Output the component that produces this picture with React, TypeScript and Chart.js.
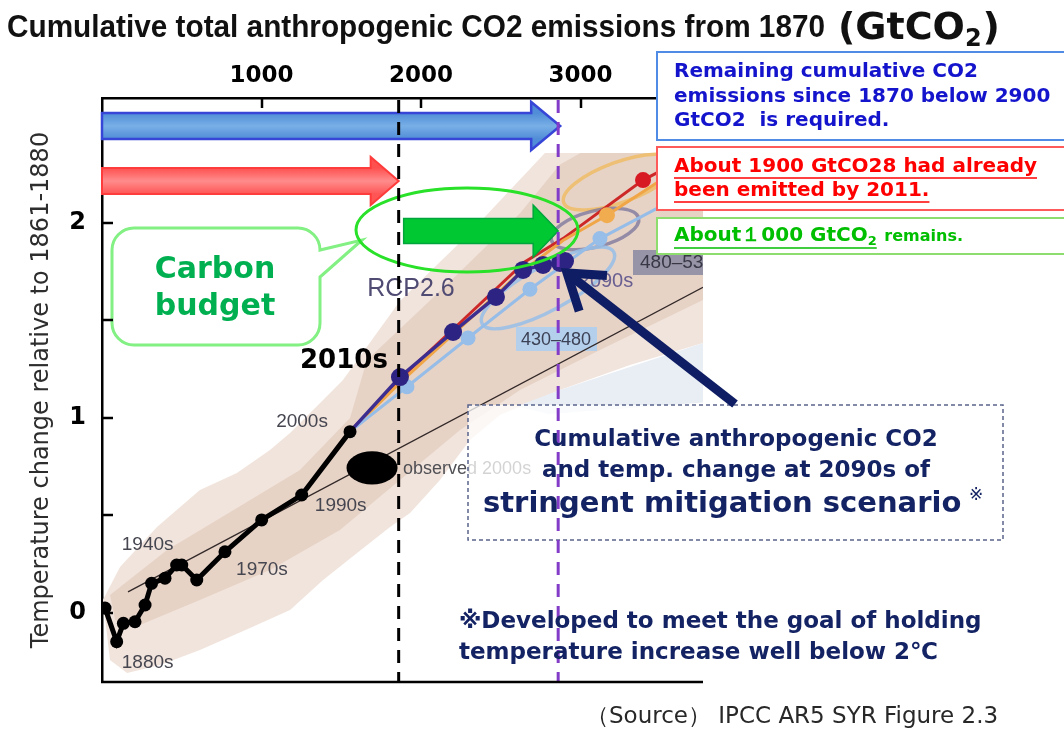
import React, { useEffect, useRef } from 'react';
import { Chart, registerables } from 'chart.js';

Chart.register(...registerables);

// ---------------- DATA ----------------
// x: cumulative anthropogenic CO2 since 1870 (GtCO2), y: temperature change vs 1861-1880 (°C)
const observedLabels = ['1870s', '1880s', '1890s', '1900s', '1910s', '1920s', '1930s', '1940s', '1950s', '1960s', '1970s', '1980s', '1990s', '2000s'];
const observedCO2 = [19, 92, 134, 207, 270, 311, 395, 468, 500, 594, 771, 1001, 1252, 1555];
const observedTemp = [0.025, -0.147, -0.053, -0.045, 0.041, 0.152, 0.178, 0.246, 0.246, 0.169, 0.314, 0.477, 0.605, 0.93];

const rcp26CO2 = [1555, 1868, 2201, 2470, 2640, 2765, 2871, 2903];
const rcp26Temp = [0.93, 1.21, 1.441, 1.621, 1.759, 1.785, 1.795, 1.805];

const rcp45CO2 = [1555, 1912, 2295, 2683, 3122, 3768];
const rcp45Temp = [0.93, 1.16, 1.41, 1.66, 1.92, 2.2];

const rcp60CO2 = [1555, 1880, 2230, 2600, 2890, 3166, 3768];
const rcp60Temp = [0.93, 1.19, 1.45, 1.73, 1.91, 2.04, 2.36];

const rcp85CO2 = [1555, 1880, 2260, 2650, 2890, 3392, 3768];
const rcp85Temp = [0.93, 1.21, 1.5, 1.8, 1.92, 2.22, 2.38];

const trendCO2 = [163, 3768];
const trendTemp = [0.108, 1.67];

const plumeOuterCO2 = [6, 113, 345, 614, 846, 1053, 1179, 1386, 1511, 1868, 2307, 2777, 3768, 3768, 3310, 2871, 2495, 2307, 2119, 1931, 1806, 1599, 1386, 1179, 928, 614, 364, 157, 50];
const plumeOuterTemp = [0.067, 0.236, 0.441, 0.631, 0.718, 0.836, 0.923, 1.092, 1.195, 1.6, 1.95, 2.359, 2.359, 1.385, 1.272, 1.144, 1.015, 0.887, 0.682, 0.513, 0.441, 0.308, 0.169, 0.015, -0.077, -0.19, -0.267, -0.308, -0.241];

const plumeInnerCO2 = [50, 408, 846, 1241, 1555, 1661, 1994, 2245, 2621, 2871, 3000, 3768, 3768, 3122, 2621, 2245, 1868, 1492, 1053, 614, 238, 82];
const plumeInnerTemp = [0.092, 0.323, 0.538, 0.733, 1.0, 1.297, 1.554, 1.75, 2.05, 2.3, 2.359, 2.359, 1.605, 1.349, 1.144, 0.938, 0.682, 0.426, 0.221, 0.067, -0.062, -0.036];

const plumeLowCO2 = [3768, 2871, 2600, 2800, 3768];
const plumeLowTemp = [1.385, 1.144, 1.06, 1.02, 1.08];

// 2090s scenario ranges (centre, half-width in GtCO2, half-height in °C)
const rangeCO2 = [3248, 3091, 2796];
const rangeTemp = [2.21, 1.969, 1.667];
const rangeHalfCO2 = [376, 282, 470];
const rangeHalfTemp = [0.103, 0.092, 0.113];

const obs2000sCO2 = 1693;
const obs2000sTemp = 0.744;
const obs2000sHalfCO2 = 160;
const obs2000sHalfTemp = 0.085;

const emittedBy2011 = 1860; // "about 1900 GtCO2"
const budgetTotal = 2860; // "below 2900 GtCO2"

const xTickValues = [1000, 2000, 3000];
const yTickValues = [0, 0.5, 1, 1.5, 2];

// ---------------- STYLES ----------------
const rangeColors = ['rgba(240,185,90,0.75)', 'rgba(120,115,155,0.75)', 'rgba(150,190,232,0.85)'];
const rangeTilt = [-0.35, -0.25, -0.5];

const pts = (xs: number[], ys: number[]) => xs.map((x, i) => ({ x, y: ys[i] }));

function drawArrow(ctx: CanvasRenderingContext2D, x0: number, x1: number, yc: number, bodyH: number, headH: number, headL: number, fill: any, stroke: string, lw: number) {
  ctx.beginPath();
  ctx.moveTo(x0, yc - bodyH / 2);
  ctx.lineTo(x1 - headL, yc - bodyH / 2);
  ctx.lineTo(x1 - headL, yc - headH / 2);
  ctx.lineTo(x1, yc);
  ctx.lineTo(x1 - headL, yc + headH / 2);
  ctx.lineTo(x1 - headL, yc + bodyH / 2);
  ctx.lineTo(x0, yc + bodyH / 2);
  ctx.closePath();
  ctx.fillStyle = fill;
  ctx.fill();
  ctx.lineWidth = lw;
  ctx.strokeStyle = stroke;
  ctx.lineJoin = 'miter';
  ctx.stroke();
}

const annotationPlugin = {
  id: 'annotations',
  beforeDraw(chart: any) {
    const ctx = chart.ctx;
    ctx.save();
    ctx.fillStyle = '#ffffff';
    ctx.fillRect(0, 0, chart.width, chart.height);
    ctx.restore();
  },
  beforeDatasetsDraw(chart: any) {
    const { ctx, chartArea: ca } = chart;
    const xs = (v: number) => chart.scales.x.getPixelForValue(v);
    const ys = (v: number) => chart.scales.y.getPixelForValue(v);
    ctx.save();
    ctx.beginPath();
    ctx.rect(ca.left, ca.top, ca.right - ca.left, ca.bottom - ca.top);
    ctx.clip();
    const poly = (X: number[], Y: number[], color: string) => {
      ctx.beginPath();
      X.forEach((v, i) => (i ? ctx.lineTo(xs(v), ys(Y[i])) : ctx.moveTo(xs(v), ys(Y[i]))));
      ctx.closePath();
      ctx.fillStyle = color;
      ctx.fill();
    };
    poly(plumeOuterCO2, plumeOuterTemp, 'rgb(241,228,220)');
    poly(plumeLowCO2, plumeLowTemp, 'rgb(233,237,244)');
    poly(plumeInnerCO2, plumeInnerTemp, 'rgb(231,211,198)');

    // range labels
    ctx.fillStyle = 'rgb(150,148,166)';
    ctx.fillRect(633, 250, 80, 25);
    ctx.fillStyle = 'rgb(55,55,70)';
    ctx.font = '19px "Liberation Sans"';
    ctx.textAlign = 'left';
    ctx.textBaseline = 'middle';
    ctx.fillText('480\u2013530', 640, 263);
    ctx.fillStyle = 'rgb(180,207,236)';
    ctx.fillRect(516, 327, 81, 24);
    ctx.fillStyle = 'rgb(60,65,85)';
    ctx.font = '18px "Liberation Sans"';
    ctx.textAlign = 'center';
    ctx.fillText('430\u2013480', 556, 340);

    // range ellipses
    rangeCO2.forEach((c, i) => {
      const cx = xs(c);
      const cy = ys(rangeTemp[i]);
      const rx = xs(c + rangeHalfCO2[i]) - cx;
      const ry = cy - ys(rangeTemp[i] + rangeHalfTemp[i]);
      ctx.beginPath();
      ctx.ellipse(cx, cy, rx, ry, rangeTilt[i], 0, Math.PI * 2);
      ctx.strokeStyle = rangeColors[i];
      ctx.lineWidth = 3.5;
      ctx.stroke();
    });

    ctx.fillStyle = 'rgb(105,95,145)';
    ctx.font = '20px "Liberation Sans"';
    ctx.textAlign = 'center';
    ctx.fillText('2090s', 606, 281);
    ctx.restore();
  },
  afterDatasetsDraw(chart: any) {
    const { ctx, chartArea: ca } = chart;
    const xs = (v: number) => chart.scales.x.getPixelForValue(v);
    const ys = (v: number) => chart.scales.y.getPixelForValue(v);
    ctx.save();

    // observed 2000s blob
    const ex = xs(obs2000sCO2);
    const ey = ys(obs2000sTemp);
    ctx.beginPath();
    ctx.ellipse(ex, ey, xs(obs2000sCO2 + obs2000sHalfCO2) - ex, ey - ys(obs2000sTemp + obs2000sHalfTemp), 0, 0, Math.PI * 2);
    ctx.fillStyle = '#000';
    ctx.fill();
    ctx.font = '18px "Liberation Sans"';
    ctx.fillStyle = 'rgb(80,80,85)';
    ctx.textAlign = 'left';
    ctx.textBaseline = 'middle';
    ctx.fillText('observed 2000s', ex + 31, ey + 1);

    // decade labels
    const decadeLabelOffsets = [[1, 31, 21], [7, -29, -20], [10, 37, 18], [12, 39, 11], [13, -48, -10]];
    ctx.font = '19px "Liberation Sans"';
    ctx.fillStyle = 'rgb(70,70,80)';
    ctx.textAlign = 'center';
    decadeLabelOffsets.forEach(([i, dx, dy]) => {
      ctx.fillText(observedLabels[i], xs(observedCO2[i]) + dx, ys(observedTemp[i]) + dy, 52);
    });
    ctx.font = 'bold 26px "DejaVu Sans"';
    ctx.fillStyle = '#000';
    ctx.fillText('2010s', xs(rcp26CO2[1]) - 56, ys(rcp26Temp[1]) - 16);
    ctx.font = '25px "Liberation Sans"';
    ctx.fillStyle = 'rgb(80,75,115)';
    ctx.fillText('RCP2.6', 411, 289);

    // arrows
    const blueFill = ctx.createLinearGradient(0, 113, 0, 139);
    blueFill.addColorStop(0, 'rgb(80,140,215)');
    blueFill.addColorStop(0.5, 'rgb(120,175,230)');
    blueFill.addColorStop(1, 'rgb(80,140,215)');
    drawArrow(ctx, xs(0), xs(budgetTotal) + 2, 126, 26, 48, 29, blueFill, 'rgb(55,70,215)', 2.5);
    const redFill = ctx.createLinearGradient(0, 168, 0, 194);
    redFill.addColorStop(0, 'rgb(255,80,80)');
    redFill.addColorStop(0.5, 'rgb(255,140,140)');
    redFill.addColorStop(1, 'rgb(255,85,85)');
    drawArrow(ctx, xs(0), xs(emittedBy2011), 181, 26, 48, 28, redFill, 'rgb(255,60,60)', 2);

    // carbon budget callout
    ctx.beginPath();
    ctx.moveTo(134, 228);
    ctx.lineTo(298, 228);
    ctx.arcTo(320, 228, 320, 345, 22);
    ctx.lineTo(362, 240);
    ctx.lineTo(320, 277);
    ctx.lineTo(320, 323);
    ctx.arcTo(320, 345, 112, 345, 22);
    ctx.lineTo(134, 345);
    ctx.arcTo(112, 345, 112, 228, 22);
    ctx.lineTo(112, 250);
    ctx.arcTo(112, 228, 320, 228, 22);
    ctx.closePath();
    ctx.fillStyle = '#fff';
    ctx.fill();
    ctx.strokeStyle = 'rgb(130,240,130)';
    ctx.lineWidth = 3;
    ctx.stroke();
    ctx.font = 'bold 30px "DejaVu Sans"';
    ctx.fillStyle = 'rgb(0,176,80)';
    ctx.textAlign = 'center';
    ctx.fillText('Carbon', 215, 270);
    ctx.fillText('budget', 215, 307);

    // green arrow + ellipse
    drawArrow(ctx, xs(emittedBy2011) + 5, xs(budgetTotal), 231, 25, 52, 25, 'rgb(0,200,50)', 'rgb(0,165,60)', 1.5);
    ctx.beginPath();
    ctx.ellipse(467, 230, 111, 42, 0, 0, Math.PI * 2);
    ctx.strokeStyle = 'rgb(40,225,40)';
    ctx.lineWidth = 3;
    ctx.stroke();

    // dashed text box
    ctx.fillStyle = 'rgba(255,255,255,0.75)';
    ctx.fillRect(468, 405, 535, 135);
    ctx.setLineDash([4, 3]);
    ctx.strokeStyle = 'rgb(90,100,140)';
    ctx.lineWidth = 1.5;
    ctx.strokeRect(468, 405, 535, 135);
    ctx.setLineDash([]);

    // vertical dashed lines
    ctx.lineWidth = 3;
    ctx.setLineDash([13, 9]);
    ctx.strokeStyle = '#000';
    ctx.beginPath();
    ctx.moveTo(xs(emittedBy2011), ca.top + 2);
    ctx.lineTo(xs(emittedBy2011), ca.bottom);
    ctx.stroke();
    ctx.strokeStyle = 'rgb(130,60,200)';
    ctx.beginPath();
    ctx.moveTo(xs(budgetTotal), ca.top + 2);
    ctx.lineTo(xs(budgetTotal), ca.bottom);
    ctx.stroke();
    ctx.setLineDash([]);

    // box text
    ctx.fillStyle = 'rgb(20,35,100)';
    ctx.textAlign = 'center';
    ctx.font = 'bold 23px "DejaVu Sans"';
    ctx.fillText('Cumulative anthropogenic CO2', 736, 440);
    ctx.fillText('and temp. change at 2090s of', 736, 471);
    ctx.font = 'bold 29px "DejaVu Sans"';
    ctx.textAlign = 'left';
    ctx.fillText('stringent mitigation scenario', 483, 504);
    ctx.font = '17px "DejaVu Sans"';
    ctx.fillText('\u203B', 969, 496);

    // navy arrow
    const tipX = xs(rcp26CO2[rcp26CO2.length - 1]) + 2;
    const tipY = ys(rcp26Temp[rcp26Temp.length - 1]) + 12;
    const sx = 735, sy = 404;
    const ang = Math.atan2(sy - tipY, sx - tipX);
    ctx.strokeStyle = 'rgb(15,30,100)';
    ctx.lineWidth = 9;
    ctx.lineCap = 'butt';
    ctx.beginPath();
    ctx.moveTo(sx, sy);
    ctx.lineTo(tipX + 5 * Math.cos(ang), tipY + 5 * Math.sin(ang));
    ctx.stroke();
    ctx.lineJoin = 'miter';
    ctx.beginPath();
    ctx.moveTo(tipX + 40 * Math.cos(ang - 0.6), tipY + 40 * Math.sin(ang - 0.6));
    ctx.lineTo(tipX, tipY);
    ctx.lineTo(tipX + 40 * Math.cos(ang + 0.6), tipY + 40 * Math.sin(ang + 0.6));
    ctx.stroke();

    // inward tick marks and bottom axis
    ctx.strokeStyle = '#000';
    ctx.lineWidth = 2.5;
    chart.scales.x.ticks.forEach((t: any) => {
      const px = Math.round(xs(t.value));
      ctx.beginPath();
      ctx.moveTo(px, ca.top);
      ctx.lineTo(px, ca.top + 10);
      ctx.stroke();
    });
    chart.scales.y.ticks.forEach((t: any) => {
      const py = Math.round(ys(t.value));
      ctx.beginPath();
      ctx.moveTo(ca.left, py);
      ctx.lineTo(ca.left + 11, py);
      ctx.stroke();
    });
    ctx.beginPath();
    ctx.moveTo(ca.left - 1, ca.bottom);
    ctx.lineTo(ca.right, ca.bottom);
    ctx.stroke();

    // right-hand text boxes
    ctx.lineWidth = 2;
    ctx.fillStyle = '#fff';
    ctx.fillRect(657, 52, 420, 88);
    ctx.strokeStyle = 'rgb(80,140,230)';
    ctx.strokeRect(657, 52, 420, 88);
    ctx.fillStyle = '#fff';
    ctx.fillRect(657, 147, 420, 63);
    ctx.strokeStyle = 'rgb(255,90,90)';
    ctx.strokeRect(657, 147, 420, 63);
    ctx.fillStyle = '#fff';
    ctx.fillRect(657, 218, 420, 36);
    ctx.strokeStyle = 'rgb(140,220,110)';
    ctx.strokeRect(657, 218, 420, 36);

    ctx.textAlign = 'left';
    ctx.textBaseline = 'middle';
    ctx.font = 'bold 20px "DejaVu Sans"';
    ctx.fillStyle = 'rgb(20,20,205)';
    ctx.fillText('Remaining cumulative CO2', 674, 72);
    ctx.fillText('emissions since 1870 below 2900', 674, 97);
    ctx.fillText('GtCO2  is required.', 674, 121);

    ctx.fillStyle = 'rgb(255,0,0)';
    ctx.strokeStyle = 'rgb(255,0,0)';
    ctx.lineWidth = 1.5;
    const redLines = ['About 1900 GtCO28 had already', 'been emitted by 2011.'];
    redLines.forEach((s, i) => {
      const yy = 167 + i * 24;
      ctx.fillText(s, 674, yy);
      const w = ctx.measureText(s).width;
      ctx.beginPath();
      ctx.moveTo(674, yy + 11);
      ctx.lineTo(674 + w, yy + 11);
      ctx.stroke();
    });

    ctx.fillStyle = 'rgb(0,190,0)';
    ctx.strokeStyle = 'rgb(0,190,0)';
    const g1 = 'About\uFF11000 GtCO';
    ctx.fillText(g1, 674, 236);
    const w1 = ctx.measureText(g1).width;
    ctx.font = 'bold 13px "DejaVu Sans"';
    ctx.fillText('2', 674 + w1, 242);
    const w2 = ctx.measureText('2').width;
    ctx.beginPath();
    ctx.moveTo(674, 248);
    ctx.lineTo(674 + w1 + w2, 248);
    ctx.stroke();
    ctx.font = 'bold 16px "DejaVu Sans"';
    ctx.fillText(' remains.', 674 + w1 + w2 + 2, 237);

    // footnote
    ctx.fillStyle = 'rgb(20,35,100)';
    ctx.font = 'bold 23px "DejaVu Sans"';
    ctx.fillText('\u203BDeveloped to meet the goal of holding', 459, 622);
    ctx.fillText('temperature increase well below 2\u2103', 459, 653);

    // source
    ctx.fillStyle = 'rgb(40,40,40)';
    ctx.font = '23px "DejaVu Sans"';
    ctx.fillText('\uFF08Source\uFF09 IPCC AR5 SYR Figure 2.3', 586, 717, 426);

    // title
    ctx.fillStyle = '#111';
    ctx.textBaseline = 'alphabetic';
    ctx.font = 'bold 32px "Liberation Sans"';
    ctx.fillText('Cumulative total anthropogenic CO2 emissions from 1870', 7, 37, 818);
    ctx.font = 'bold 38px "DejaVu Sans"';
    const t1 = '(GtCO';
    ctx.fillText(t1, 838, 39);
    const tw = ctx.measureText(t1).width;
    ctx.font = 'bold 24px "DejaVu Sans"';
    ctx.fillText('2', 838 + tw, 46);
    const tw2 = ctx.measureText('2').width;
    ctx.font = 'bold 38px "DejaVu Sans"';
    ctx.fillText(')', 838 + tw + tw2 + 1, 39);

    ctx.restore();
  },
};

export default function App() {
  const ref = useRef<HTMLCanvasElement>(null);
  useEffect(() => {
    const canvas = ref.current!;
    const chart = new Chart(canvas, {
      type: 'scatter',
      data: {
        datasets: [
          {
            label: 'trend',
            data: pts(trendCO2, trendTemp),
            showLine: true,
            borderColor: 'rgb(50,40,40)',
            borderWidth: 1.3,
            pointRadius: 0,
            order: 6,
          },
          {
            label: 'RCP8.5',
            data: pts(rcp85CO2, rcp85Temp),
            showLine: true,
            borderColor: 'rgb(205,40,40)',
            borderWidth: 3,
            pointRadius: rcp85CO2.map((_, i) => (i === 5 ? 8 : 0)),
            pointBackgroundColor: 'rgb(215,25,35)',
            pointBorderWidth: 0,
            order: 5,
          },
          {
            label: 'RCP6.0',
            data: pts(rcp60CO2, rcp60Temp),
            showLine: true,
            borderColor: 'rgb(240,165,70)',
            borderWidth: 3,
            pointRadius: rcp60CO2.map((_, i) => (i === 5 ? 8 : 0)),
            pointBackgroundColor: 'rgb(242,172,80)',
            pointBorderWidth: 0,
            order: 4,
          },
          {
            label: 'RCP4.5',
            data: pts(rcp45CO2, rcp45Temp),
            showLine: true,
            borderColor: 'rgb(150,188,232)',
            borderWidth: 3,
            pointRadius: rcp45CO2.map((_, i) => (i > 0 && i < rcp45CO2.length - 1 ? 7.5 : 0)),
            pointBackgroundColor: 'rgb(150,190,232)',
            pointBorderWidth: 0,
            order: 3,
          },
          {
            label: 'RCP2.6',
            data: pts(rcp26CO2, rcp26Temp),
            showLine: true,
            borderColor: 'rgb(60,45,145)',
            borderWidth: 3.5,
            pointRadius: rcp26CO2.map((_, i) => (i === 0 ? 0 : 9)),
            pointBackgroundColor: 'rgb(45,35,130)',
            pointBorderWidth: 0,
            order: 2,
          },
          {
            label: 'Observed',
            data: pts(observedCO2, observedTemp),
            showLine: true,
            borderColor: '#000',
            borderWidth: 5,
            pointRadius: 6.5,
            pointBackgroundColor: '#000',
            pointBorderWidth: 0,
            order: 1,
          },
        ],
      },
      options: {
        responsive: false,
        animation: false,
        events: [],
        layout: { padding: { left: 0, top: 0, right: 361, bottom: 49 } },
        plugins: {
          legend: { display: false },
          tooltip: { enabled: false },
          title: { display: false },
        },
        scales: {
          x: {
            type: 'linear',
            position: 'top',
            min: 0,
            max: 3768,
            afterFit: (s: any) => {
              s.height = 98;
            },
            afterBuildTicks: (s: any) => {
              s.ticks = xTickValues.map((v) => ({ value: v }));
            },
            grid: { display: true, drawOnChartArea: false, drawTicks: false },
            border: { display: true, color: '#000', width: 2.5 },
            ticks: {
              padding: 8,
              color: '#000',
              maxRotation: 0,
              autoSkip: false,
              font: { family: 'DejaVu Sans', size: 23, weight: 'bold' },
              callback: (v: any) => String(v),
            },
          },
          y: {
            type: 'linear',
            min: -0.354,
            max: 2.641,
            afterFit: (s: any) => {
              s.width = 102;
            },
            afterBuildTicks: (s: any) => {
              s.ticks = yTickValues.map((v) => ({ value: v }));
            },
            grid: { display: true, drawOnChartArea: false, drawTicks: false },
            border: { display: true, color: '#000', width: 2.5 },
            ticks: {
              padding: 16,
              color: '#000',
              autoSkip: false,
              font: { family: 'DejaVu Sans', size: 24, weight: 'bold' },
              callback: (v: any) => (Number.isInteger(v) ? String(v) : ''),
            },
            title: {
              display: true,
              text: 'Temperature change relative to 1861-1880',
              color: 'rgb(45,45,45)',
              font: { family: 'DejaVu Sans', size: 24 },
              padding: { top: 27, bottom: 0 },
            },
          },
        },
      },
      plugins: [annotationPlugin],
    } as any);
    return () => chart.destroy();
  }, []);
  return (
    <div style={{ position: 'absolute', left: 0, top: 0, width: 1064, height: 731 }}>
      <canvas ref={ref} width={1064} height={731} style={{ width: 1064, height: 731, display: 'block' }} />
    </div>
  );
}
